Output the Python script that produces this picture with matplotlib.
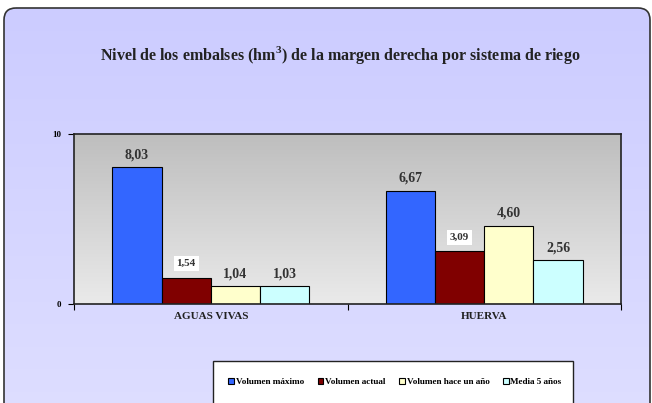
import numpy as np
import matplotlib
matplotlib.use("Agg")
import matplotlib.pyplot as plt
from matplotlib.patches import FancyBboxPatch, Rectangle

categories = ["AGUAS VIVAS", "HUERVA"]
series_names = ["Volumen máximo", "Volumen actual", "Volumen hace un año", "Media 5 años"]
vol_max = [8.03, 6.67]
vol_actual = [1.54, 3.09]
vol_hace_anio = [1.04, 4.60]
media_5 = [1.03, 2.56]
labels_max = ["8,03", "6,67"]
labels_actual = ["1,54", "3,09"]
labels_hace = ["1,04", "4,60"]
labels_media = ["1,03", "2,56"]
yticks = [0, 10]

colors = ["#3366FF", "#800000", "#FFFFCC", "#CCFFFF"]
serif = ["Liberation Serif", "DejaVu Serif"]

W, H = 652, 403
fig = plt.figure(figsize=(W / 100, H / 100), dpi=100)
fig.patch.set_facecolor("white")

# background panel with gradient and rounded border
bg = fig.add_axes([0, 0, 1, 1])
bg.set_xlim(0, W)
bg.set_ylim(H, 0)
bg.axis("off")
grad = np.linspace(0, 1, 256).reshape(-1, 1)
c_top = np.array([0xCC, 0xCC, 0xFF]) / 255
c_bot = np.array([0xDE, 0xDE, 0xFF]) / 255
img = c_top[None, None, :] * (1 - grad[:, :, None]) + c_bot[None, None, :] * grad[:, :, None]
im = bg.imshow(img, extent=[4, 650, 415, 8], aspect="auto", zorder=0)
panel = FancyBboxPatch((4, 8), 646, 420, boxstyle="round,pad=0,rounding_size=12",
                       facecolor="none", edgecolor="#333333", linewidth=1.2, zorder=1)
bg.add_patch(panel)
im.set_clip_path(panel)

fig.text(340 / W, 1 - 55 / H, "Nivel de los embalses (hm$^{\\mathregular{3}}$) de la margen derecha por sistema de riego",
         ha="center", va="center", fontsize=11.5, fontweight="bold", family=serif, color="#222222")

ax = fig.add_axes([74 / W, 1 - 303.7 / H, (621 - 74) / W, (303.7 - 134) / H])
ax.set_xlim(-0.5, 1.5)
ax.set_ylim(0, 10)
# plot area gradient
g2 = np.linspace(0, 1, 256).reshape(-1, 1)
ctop = np.array([190, 190, 190]) / 255
cbot = np.array([234, 234, 234]) / 255
img2 = ctop[None, None, :] * (1 - g2[:, :, None]) + cbot[None, None, :] * g2[:, :, None]
ax.imshow(img2, extent=[-0.5, 1.5, 0, 10], aspect="auto", zorder=0)
ax.set_xlim(-0.5, 1.5)
ax.set_ylim(0, 10)

x = np.arange(len(categories))
w = 0.18
series = [vol_max, vol_actual, vol_hace_anio, media_5]
labs = [labels_max, labels_actual, labels_hace, labels_media]
for i, (vals, lb) in enumerate(zip(series, labs)):
    xs = x + (i - 1.5) * w
    ax.bar(xs, vals, width=w, color=colors[i], edgecolor="black", linewidth=0.8,
           label=series_names[i], zorder=2)
    for xi, v, t in zip(xs, vals, lb):
        if i == 1:
            ax.text(xi, v + 0.55, t, ha="center", va="bottom", fontsize=8, fontweight="bold",
                    family=serif, color="#333333", zorder=3,
                    bbox=dict(boxstyle="square,pad=0.25", facecolor="white", edgecolor="none"))
        else:
            ax.text(xi, v + 0.35, t, ha="center", va="bottom", fontsize=10, fontweight="bold",
                    family=serif, color="#333333", zorder=3)

for s in ax.spines.values():
    s.set_color("#222222")
    s.set_linewidth(1.2)
ax.set_yticks(yticks)
ax.set_yticklabels([str(t) for t in yticks], fontsize=6.5, fontweight="bold", family=serif)
ax.tick_params(axis="y", length=4, width=0.8, pad=5)
ax.set_xticks([-0.5, 0.5, 1.5])
ax.set_xticklabels([])
ax.tick_params(axis="x", length=4, width=0.8, direction="out")
for xi, c in zip(x, categories):
    ax.text(xi, -0.5, c, transform=ax.transData, ha="center", va="top", fontsize=8,
            fontweight="bold", family=serif, color="#222222")

# legend box
bg.add_patch(Rectangle((213, 361), 360, 60, facecolor="white", edgecolor="#222222",
                       linewidth=1.0, zorder=2))
handles, lbls = ax.get_legend_handles_labels()
leg = fig.legend(handles, lbls, loc="center", bbox_to_anchor=(395 / W, 1 - 382 / H), ncol=4,
                 frameon=False, prop=dict(family=serif, weight="bold", size=6.6),
                 handlelength=0.6, handleheight=0.6, handletextpad=0.2, columnspacing=1.5)

fig.savefig("out.png", dpi=100)
